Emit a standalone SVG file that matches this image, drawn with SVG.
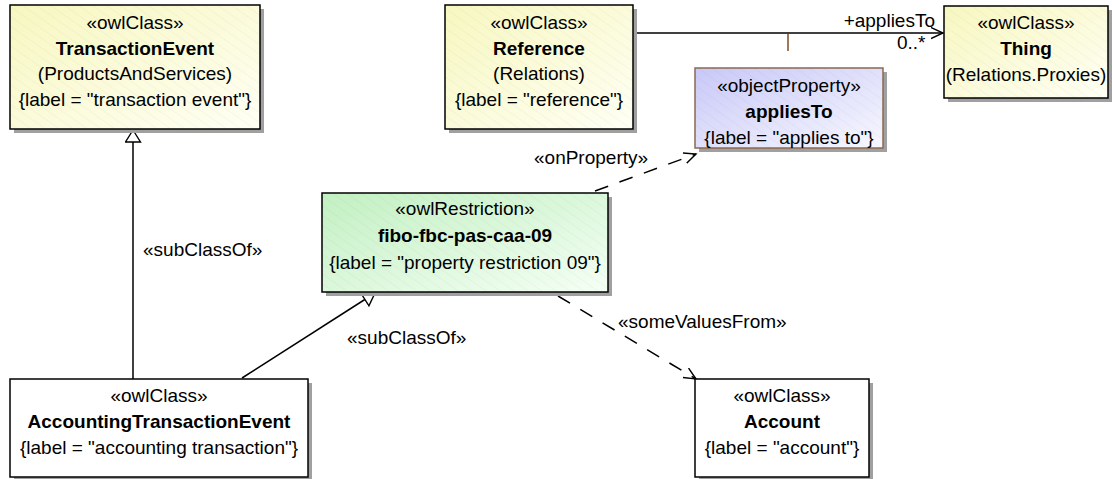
<svg xmlns="http://www.w3.org/2000/svg" width="1112" height="479" viewBox="0 0 1112 479">
<style>
text{font-family:"Liberation Sans",Arial,sans-serif;font-size:19px;fill:#000}
.c{text-anchor:middle}
.b{font-weight:bold}
.box{stroke:#000;stroke-width:1.5}
.shadow{fill:#a0a0a0}
.line{fill:none;stroke:#000;stroke-width:1.5}
.dash{fill:none;stroke:#000;stroke-width:1.5;stroke-dasharray:14 12}
</style>
<defs>
<linearGradient id="gy" x1="0" y1="0" x2="1" y2="1">
<stop offset="0" stop-color="#f7f7c0"/><stop offset="1" stop-color="#fffff5"/>
</linearGradient>
<linearGradient id="gg" x1="0" y1="0" x2="1" y2="1">
<stop offset="0" stop-color="#c2f0c2"/><stop offset="1" stop-color="#f5fff5"/>
</linearGradient>
<linearGradient id="gb" x1="0" y1="0" x2="1" y2="1">
<stop offset="0" stop-color="#c8c8f8"/><stop offset="1" stop-color="#f8f8ff"/>
</linearGradient>
<pattern id="hatch" width="8" height="8" patternUnits="userSpaceOnUse" patternTransform="rotate(-55)">
<line x1="0" y1="0" x2="0" y2="8" stroke="#000" stroke-opacity="0.05" stroke-width="1"/>
</pattern>
<marker id="tri" markerWidth="16" markerHeight="18" refX="13" refY="8" orient="auto" markerUnits="userSpaceOnUse">
<path d="M1,0.5 L13,8 L1,15.5 Z" fill="#fff" stroke="#000" stroke-width="1.4"/>
</marker>
<marker id="open" markerWidth="14" markerHeight="14" refX="12" refY="6" orient="auto" markerUnits="userSpaceOnUse">
<path d="M0,0.5 L12,6 L0,11.5" fill="none" stroke="#000" stroke-width="1.4"/>
</marker>
</defs>

<g id="connectors">
<line class="line" x1="133" y1="379" x2="133" y2="130" marker-end="url(#tri)"/>
<text x="143" y="256">«subClassOf»</text>
<line class="line" x1="242" y1="378" x2="375" y2="293" marker-end="url(#tri)"/>
<text x="347" y="344">«subClassOf»</text>
<line class="dash" x1="595" y1="191" x2="696" y2="154" marker-end="url(#open)"/>
<text x="534" y="164">«onProperty»</text>
<line class="dash" x1="558" y1="296" x2="696" y2="379" marker-end="url(#open)"/>
<text x="618" y="328">«someValuesFrom»</text>
<line class="line" x1="633" y1="33" x2="943" y2="33" marker-end="url(#open)"/>
<line x1="788" y1="34" x2="788" y2="51" stroke="#a0785a" stroke-width="2"/>
<text x="935" y="27" text-anchor="end">+appliesTo</text>
<text x="897" y="49">0..*</text>
</g>

<g id="TransactionEvent">
<rect class="shadow" x="14" y="9" width="250" height="124"/>
<rect class="box" x="10" y="5" width="250" height="124" fill="url(#gy)"/>
<rect x="10" y="5" width="250" height="124" fill="url(#hatch)"/>
<text class="c" x="135" y="29">«owlClass»</text>
<text class="c b" x="135" y="55">TransactionEvent</text>
<text class="c" x="135" y="80">(ProductsAndServices)</text>
<text class="c" x="135" y="106">{label = "transaction event"}</text>
</g>

<g id="Reference">
<rect class="shadow" x="449" y="9" width="188" height="124"/>
<rect class="box" x="445" y="5" width="188" height="124" fill="url(#gy)"/>
<rect x="445" y="5" width="188" height="124" fill="url(#hatch)"/>
<text class="c" x="539" y="29">«owlClass»</text>
<text class="c b" x="539" y="55">Reference</text>
<text class="c" x="539" y="80">(Relations)</text>
<text class="c" x="539" y="106">{label = "reference"}</text>
</g>

<g id="Thing">
<rect class="shadow" x="948" y="10" width="164" height="92"/>
<rect class="box" x="944" y="6" width="164" height="92" fill="url(#gy)"/>
<rect x="944" y="6" width="164" height="92" fill="url(#hatch)"/>
<text class="c" x="1026" y="29">«owlClass»</text>
<text class="c b" x="1026" y="55">Thing</text>
<text class="c" x="1026" y="81">(Relations.Proxies)</text>
</g>

<g id="appliesTo">
<rect class="shadow" x="699" y="72" width="188" height="80"/>
<rect x="695" y="68" width="188" height="80" fill="url(#gb)" stroke="#8a6a50" stroke-width="1.5"/>
<rect x="695" y="68" width="188" height="80" fill="url(#hatch)"/>
<text class="c" x="789" y="92">«objectProperty»</text>
<text class="c b" x="789" y="118">appliesTo</text>
<text class="c" x="789" y="144">{label = "applies to"}</text>
</g>

<g id="fibo-fbc-pas-caa-09">
<rect class="shadow" x="326" y="197" width="286" height="99"/>
<rect class="box" x="322" y="193" width="286" height="99" fill="url(#gg)"/>
<rect x="322" y="193" width="286" height="99" fill="url(#hatch)"/>
<text class="c" x="465" y="215">«owlRestriction»</text>
<text class="c b" x="465" y="242">fibo-fbc-pas-caa-09</text>
<text class="c" x="465" y="269">{label = "property restriction 09"}</text>
</g>

<g id="AccountingTransactionEvent">
<rect class="shadow" x="14" y="383" width="298" height="98"/>
<rect class="box" x="10" y="379" width="298" height="98" fill="#fff"/>
<text class="c" x="159" y="402">«owlClass»</text>
<text class="c b" x="159" y="428">AccountingTransactionEvent</text>
<text class="c" x="159" y="454">{label = "accounting transaction"}</text>
</g>

<g id="Account">
<rect class="shadow" x="699" y="383" width="174" height="98"/>
<rect class="box" x="695" y="379" width="174" height="98" fill="#fff"/>
<text class="c" x="782" y="402">«owlClass»</text>
<text class="c b" x="782" y="428">Account</text>
<text class="c" x="782" y="454">{label = "account"}</text>
</g>
</svg>
